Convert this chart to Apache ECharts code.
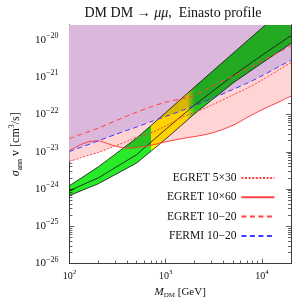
<!DOCTYPE html>
<html><head><meta charset="utf-8">
<script src="https://cdn.jsdelivr.net/npm/echarts@6/dist/echarts.min.js"></script>
<style>html,body{margin:0;padding:0;background:#fff}#c{width:294px;height:304px}</style>
</head><body><div id="c"></div>
<script>
// ---- data ----
const massGeV    = [100,130,160,200,250,300,400,500,700,1000,1500,2000,3000,5000,7000,10000,15000,20000];
const egret5x30  = [5.53e-24,6.82e-24,8.09e-24,9.6e-24,1.19e-23,1.44e-23,1.93e-23,2.47e-23,3.21e-23,4.91e-23,8.69e-23,1.13e-22,1.79e-22,3.35e-22,5.04e-22,8.36e-22,1.58e-21,2.48e-21];
const egret10x60 = [1.07e-23,1.54e-23,1.87e-23,1.96e-23,1.65e-23,1.42e-23,1.25e-23,1.29e-23,1.49e-23,1.84e-23,2.28e-23,2.56e-23,3.17e-23,5.12e-23,8.28e-23,1.34e-22,2.17e-22,3.11e-22];
const egret10x20 = [2.25e-23,2.89e-23,3.5e-23,4.3e-23,5.5e-23,6.7e-23,9.2e-23,1.15e-22,1.6e-22,2.13e-22,2.68e-22,3.2e-22,5.7e-22,1.07e-21,1.68e-21,2.72e-21,4.67e-21,6.9e-21];
const fermi10x20 = [1.01e-23,1.30e-23,1.58e-23,1.98e-23,2.44e-23,2.91e-23,3.77e-23,4.62e-23,6.37e-23,8.85e-23,1.30e-22,1.73e-22,2.66e-22,4.71e-22,6.89e-22,1.09e-21,1.93e-21,2.88e-21];

const bandMass    = [100,200,500,1000,2000,5000,10000,20000];
const bandUpper   = [1.23e-24,3.95e-24,2.34e-23,1.12e-22,5.5e-22,4.4e-21,2.1e-20,1.05e-19];
const bandCentral = [9.1e-25,2.0e-24,8.4e-24,4.0e-23,1.8e-22,1.1e-21,3.9e-21,1.3e-20];
const bandLower   = [6.7e-25,1.39e-24,5.0e-24,2.2e-23,1.05e-22,7.0e-22,2.4e-21,8.0e-21];
const yellowMass  = [700,1650,2000]; // start, end, fade-out end

const xTickExp = [2,3,4];
const yTickExp = [-26,-25,-24,-23,-22,-21,-20];
const legendNames = ['EGRET 5×30','EGRET 10×60','EGRET 10−20','FERMI 10−20'];

// ---- helpers ----
const L = Math.log10;
const X_MIN = 2, X_MAX = L(2e4), Y_MIN = -26, Y_MAX = -19.6;
const pairs = (xs, ys) => xs.map((m, i) => [L(m), L(ys[i])]);
function minors(lo, hi, a, b){ const r=[]; for(let n=lo;n<=hi;n++) for(let k=2;k<=9;k++){const v=L(k)+n; if(v>a+1e-9 && v<b-1e-9) r.push(v);} return r; }
const xMinor = minors(2,4,X_MIN,X_MAX);
const yMinor = minors(-26,-20,Y_MIN,Y_MAX);

const serif = "'Liberation Serif','DejaVu Serif',serif";
const frame = '#3c3c3c';
const pink = '#ffd4d4', purple = '#dbb8db';
const red = '#ff4040', blue = '#3a3aff';

const expFmt = v => '{b|10}{s|' + String(Math.round(v)).replace('-', '−') + '}';
function mkAxis(kind, pos, vals, len, label){
  const a = {
    type:'value', position:pos,
    min: kind==='x'?X_MIN:Y_MIN, max: kind==='x'?X_MAX:Y_MAX,
    axisLine:{show:true, onZero:false, lineStyle:{color:frame, width:1}},
    axisTick:{show:true, inside:true, length:len, customValues:vals, lineStyle:{color:frame, width:0.8}},
    axisLabel:{show:false}, splitLine:{show:false}
  };
  if (label) a.axisLabel = Object.assign({show:true, customValues:vals, formatter:expFmt}, label);
  return a;
}
const labRich = (bs, ss, lh) => ({
  b:{fontFamily:serif, fontSize:bs, color:'#111', lineHeight:lh, verticalAlign:'middle'},
  s:{fontFamily:serif, fontSize:ss, color:'#111', lineHeight:lh, verticalAlign:'top'}
});

const xAxes = [
  Object.assign(mkAxis('x','bottom',xTickExp,5,{margin:5, rich:labRich(10,7,16)}), {
    name:'{i|M}{d|DM}{n| [GeV]}', nameLocation:'middle', nameGap:21,
    nameTextStyle:{rich:{
      i:{fontFamily:serif, fontStyle:'italic', fontSize:11, color:'#111', lineHeight:14, verticalAlign:'middle'},
      d:{fontFamily:serif, fontSize:7, color:'#111', lineHeight:14, verticalAlign:'bottom'},
      n:{fontFamily:serif, fontSize:11, color:'#111', lineHeight:14, verticalAlign:'middle'}}}
  }),
  mkAxis('x','bottom',xMinor,3),
  mkAxis('x','top',xTickExp,5),
  mkAxis('x','top',xMinor,3)
];
const yAxes = [
  Object.assign(mkAxis('y','left',yTickExp,5,{margin:11, rich:labRich(11,8,16)}), {
    name:'{g|σ}{d|ann}{n| v [cm}{s|3}{n|/s]}', nameLocation:'middle', nameGap:30, nameRotate:90,
    nameTextStyle:{rich:{
      g:{fontFamily:serif, fontStyle:'italic', fontSize:12, color:'#111', lineHeight:16, verticalAlign:'middle'},
      d:{fontFamily:serif, fontSize:8, color:'#111', lineHeight:16, verticalAlign:'bottom'},
      s:{fontFamily:serif, fontSize:8, color:'#111', lineHeight:16, verticalAlign:'top'},
      n:{fontFamily:serif, fontSize:12, color:'#111', lineHeight:16, verticalAlign:'middle'}}}
  }),
  mkAxis('y','left',yMinor,3),
  mkAxis('y','right',yTickExp,5),
  mkAxis('y','right',yMinor,3)
];

function areaSeries(name, ys, color){
  return {name, type:'line', data:pairs(massGeV, ys), smooth:0.3, symbol:'none', silent:true,
    lineStyle:{width:0, opacity:0}, areaStyle:{color, opacity:1, origin:'end'}, z:1};
}
function curveSeries(name, ys, color, type){
  return {name, type:'line', data:pairs(massGeV, ys), smooth:0.3, symbol:'none', silent:true,
    lineStyle:{color, width:1, type}, itemStyle:{color}, z:5};
}

const green = 'rgb(40,234,40)', yellow = 'rgb(255,252,0)';
const bandSeries = {
  type:'custom', name:'band', clip:true, silent:true, z:3,
  data:[[X_MIN, Y_MIN]],
  renderItem:function(params, api){
    const pt = (m, s) => api.coord([L(m), L(s)]);
    const up = bandMass.map((m,i)=>pt(m, bandUpper[i]));
    const lo = bandMass.map((m,i)=>pt(m, bandLower[i]));
    const ce = bandMass.map((m,i)=>pt(m, bandCentral[i]));
    const xa = up[0][0], xb = up[up.length-1][0];
    const off = m => (api.coord([L(m), Y_MIN])[0]-xa)/(xb-xa);
    const g = new echarts.graphic.LinearGradient(xa,0,xb,0,[
      {offset:0,color:green},{offset:off(yellowMass[0]),color:green},
      {offset:off(yellowMass[0])+0.002,color:yellow},{offset:off(yellowMass[1]),color:yellow},
      {offset:off(yellowMass[2]),color:green},{offset:1,color:green}], true);
    const ln = pts => ({type:'polyline', shape:{points:pts}, style:{stroke:'#111', lineWidth:0.8, fill:null}});
    return {type:'group', children:[
      {type:'polygon', shape:{points:up.concat(lo.slice().reverse())}, style:{fill:g, blend:'multiply'}},
      ln(up), ln(lo), ln(ce)
    ]};
  }
};

const option = {
  backgroundColor:'#fff',
  animation:false,
  title:{text:'DM DM → {i|μμ},  Einasto profile', left:168, top:1, textAlign:'center',
    textStyle:{fontFamily:serif, fontSize:14, fontWeight:'normal', color:'#111',
      rich:{i:{fontFamily:serif, fontStyle:'italic', fontSize:14, color:'#111'}}}},
  grid:{left:45, right:3, top:25, bottom:34, containLabel:false},
  legend:{data:legendNames, orient:'vertical', left:162, top:167, align:'right',
    itemWidth:33, itemHeight:12, itemGap:7.3, selectedMode:false,
    itemStyle:{opacity:0},
    textStyle:{fontFamily:serif, fontSize:11.5, color:'#111', width:80}},
  xAxis:xAxes, yAxis:yAxes,
  series:[
    areaSeries('_a1', egret5x30, pink),
    areaSeries('_a2', egret10x60, pink),
    areaSeries('_a3', fermi10x20, purple),
    bandSeries,
    curveSeries('EGRET 5×30', egret5x30, red, [2,1.6]),
    curveSeries('EGRET 10×60', egret10x60, red, 'solid'),
    curveSeries('EGRET 10−20', egret10x20, red, [5,3.5]),
    curveSeries('FERMI 10−20', fermi10x20, blue, [5,3.5])
  ]
};
const chart = echarts.init(document.getElementById('c'));
chart.setOption(option);
// make the band fill multiply with the exclusion regions below it
function applyBlend(){
  const zr = chart.getZr();
  let changed = false;
  zr.storage.getDisplayList(true).forEach(el => {
    if (el.style && el.style.fill && el.style.fill.colorStops && el.style.blend !== 'multiply') {
      el.style.blend = 'multiply'; el.markRedraw(); changed = true;
    }
  });
  if (changed) zr.refreshImmediately();
}
applyBlend();
chart.on('finished', applyBlend);
</script></body></html>
